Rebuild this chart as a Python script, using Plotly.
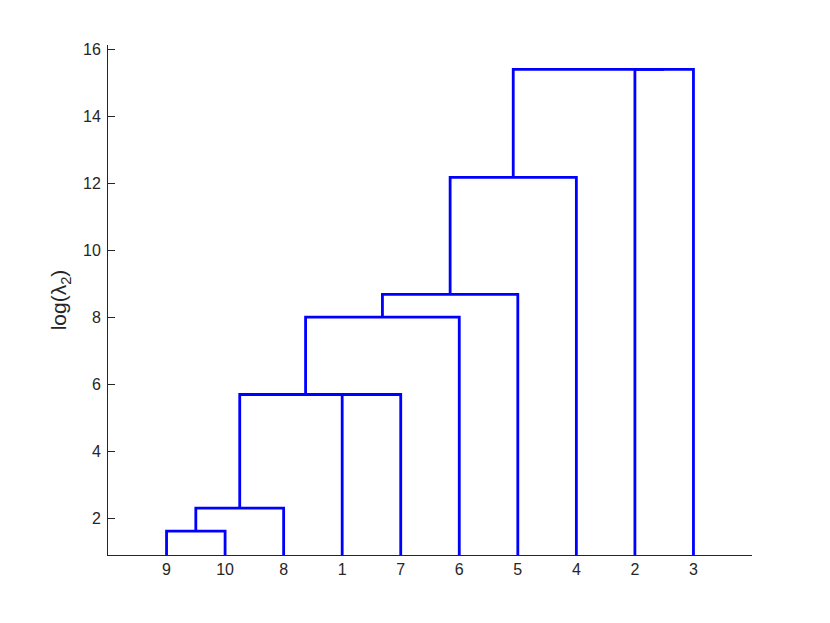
import plotly.graph_objects as go

# Linkage (MATLAB-style): node ids 1..10 are leaves, 11.. are merged clusters
link_left = [9, 11, 1, 12, 14, 15, 16, 2, 17]
link_right = [10, 8, 7, 13, 6, 5, 4, 3, 18]
link_height = [1.62, 2.31, 5.70, 5.70, 8.01, 8.69, 12.18, 15.40, 15.40]
n_leaves = 10
y_ticks = [2, 4, 6, 8, 10, 12, 14, 16]

# derive leaf order by traversing the tree
children = {}
for i, (a, b) in enumerate(zip(link_left, link_right)):
    children[n_leaves + 1 + i] = (a, b)
root = n_leaves + len(link_left)

def order(node):
    if node <= n_leaves:
        return [node]
    a, b = children[node]
    return order(a) + order(b)

leaf_order = order(root)
xpos = {leaf: i + 1 for i, leaf in enumerate(leaf_order)}
hpos = {leaf: 0.0 for leaf in leaf_order}
for i, (a, b) in enumerate(zip(link_left, link_right)):
    node = n_leaves + 1 + i
    xpos[node] = (xpos[a] + xpos[b]) / 2
    hpos[node] = link_height[i]

xs, ys = [], []
for i, (a, b) in enumerate(zip(link_left, link_right)):
    h = link_height[i]
    xs += [xpos[a], xpos[a], xpos[b], xpos[b], None]
    ys += [hpos[a], h, h, hpos[b], None]

fig = go.Figure()
fig.add_trace(go.Scatter(x=xs, y=ys, mode="lines",
                         line=dict(color="#0000ff", width=2.8),
                         hoverinfo="skip", showlegend=False))

font = "Liberation Sans, Arial, Helvetica, sans-serif"
fig.update_layout(
    width=830, height=623,
    margin=dict(l=100, r=86, t=37, b=76),
    plot_bgcolor="white", paper_bgcolor="white",
    font=dict(family=font, size=16, color="#262626"),
    xaxis=dict(range=[0, 11], tickvals=list(range(1, n_leaves + 1)),
               ticktext=[str(v) for v in leaf_order],
               ticks="", showline=True, linecolor="#262626", linewidth=1,
               showgrid=False, zeroline=False, fixedrange=True),
    yaxis=dict(range=[0.91, 16.13], tickvals=y_ticks,
               ticks="inside", ticklen=7, tickcolor="#262626",
               ticklabelstandoff=3,
               showline=True, linecolor="#262626", linewidth=1,
               showgrid=False, zeroline=False,
               title=dict(text="log(λ<sub>2</sub>)", font=dict(size=21), standoff=10)),
)

fig.write_html("out.html")
